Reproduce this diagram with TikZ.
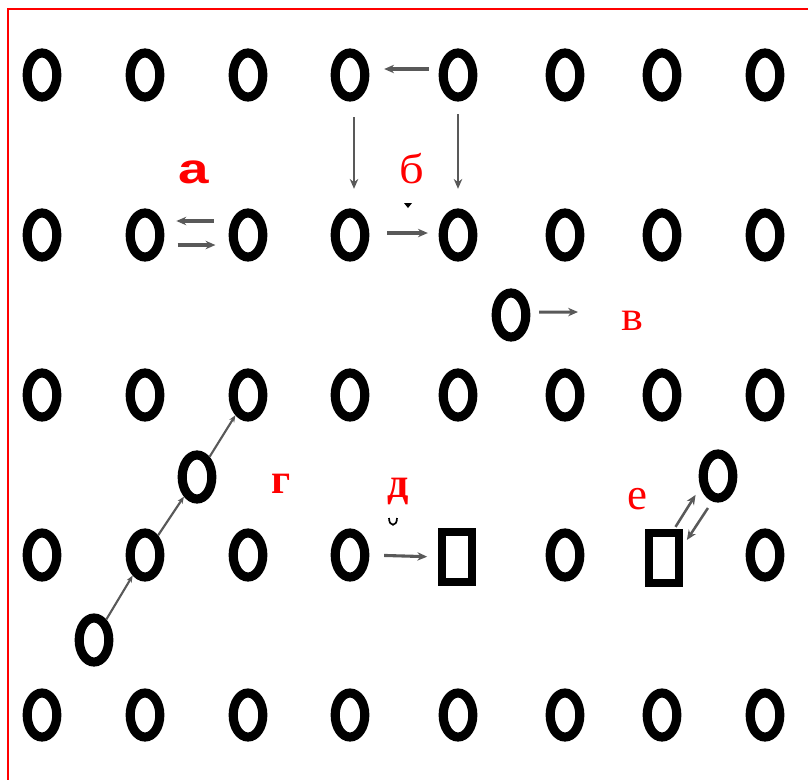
\documentclass[tikz,border=0pt]{standalone}
\usepackage{fontspec}
\setmainfont{Liberation Serif}
\newfontfamily\labsans{Liberation Sans}
\usepackage{graphicx}
\usetikzlibrary{shapes.geometric,arrows.meta,calc}

\tikzset{
  atom/.style={ellipse, draw, line width=6.5pt, minimum width=0.74cm,
    minimum height=1.1cm, inner sep=0pt},
  vac/.style={rectangle, draw, line width=6pt, minimum width=0.74cm,
    minimum height=1.25cm, inner sep=0pt},
  jump/.style={draw=black!65, line width=2.2pt, -{Stealth[length=7pt,width=6pt]}},
  lbl/.style={text=red, anchor=base, inner sep=0pt,
    font=\fontsize{30}{30}\selectfont},
}

\begin{document}
\begin{tikzpicture}[x=0.025cm, y=-0.025cm]
  \useasboundingbox (0,0) rectangle (808,779);
  \clip (0,0) rectangle (808,779);
  \draw[red, line width=1.4pt] (8,800) -- (8,9) -- (830,9);
  % lattice sites
  \foreach \x [count=\i] in {42,145,248,350,458,565,662,765}
    \foreach \y [count=\j] in {75,235,395,555,715}{
      \pgfmathtruncatemacro\isvac{(\j==4)&&(\i==5||\i==7)}
      \ifnum\isvac=0 \node[atom] (s\i\j) at (\x,\y) {};\fi
    }
  % vacancies
  \node[vac] (v1) at (457,557) {};
  \node[vac] (v2) at (664,558) {};
  % interstitials
  \node[atom] (iv) at (511,315) {};
  \node[atom] (ig1) at (197,477) {};
  \node[atom] (ig2) at (94,640) {};
  \node[atom] (ie) at (718,476) {};
  \coordinate (ivend) at (578,312);

  % a
  \draw[jump, shorten <=0.37cm, shorten >=0.3cm] ([yshift=0.35cm]s32.west) -- ([yshift=0.35cm]s22.east);
  \draw[jump, shorten <=0.33cm, shorten >=0.33cm] ([yshift=-0.25cm]s22.east) -- ([yshift=-0.25cm]s32.west);
  % b
  \draw[jump, shorten <=0.25cm, shorten >=0.37cm] ([yshift=0.15cm]s51.west) -- ([yshift=0.15cm]s41.east);
  \draw[jump, line width=1.6pt, shorten <=0.39cm, shorten >=0.49cm] ([xshift=0.1cm]s41.south) -- ([xshift=0.1cm]s42.north);
  \draw[jump, line width=1.6pt, shorten <=0.32cm, shorten >=0.49cm] (s51.south) -- (s52.north);
  \draw[jump, shorten <=0.45cm, shorten >=0.27cm] ([yshift=0.05cm]s42.east) -- ([yshift=0.05cm]s52.west);
  % v
  \draw[jump, shorten <=0.22cm] ([yshift=0.07cm]iv.east) -- (ivend);
  % g
  \draw[jump, line width=1.5pt, -{Stealth[length=5pt,width=4pt]}] (ig2) -- (s24);
  \draw[jump, line width=1.5pt, -{Stealth[length=5pt,width=4pt]}] (s24) -- (ig1);
  \draw[jump, line width=1.5pt, -{Stealth[length=5pt,width=4pt]}] (ig1) -- (s33);
  % d
  \draw[jump, shorten <=0.37cm, shorten >=0.27cm] (s44.east) -- (v1.west);
  % e
  \draw[jump, line width=1.8pt] ($(v2)!0.38!(ie)+(-9,0)$) -- ($(ie)!0.23!(v2)+(-10,0)$);
  \draw[jump, line width=1.8pt] ($(ie)!0.39!(v2)+(11,0)$) -- ($(v2)!0.22!(ie)+(11,0)$);

  % labels
  \node[lbl, font=\labsans\bfseries\fontsize{30}{30}\selectfont] (la) at (194,183) {\scalebox{1.3}[1]{а}};
  \node[lbl] (lb) at (412,183) {\scalebox{1.15}[1]{б}};
  \node[lbl] (lv) at (632,330) {\scalebox{1.1}[1]{в}};
  \node[lbl, font=\bfseries\fontsize{30}{30}\selectfont] (lg) at (281,493) {г};
  \node[lbl, font=\bfseries\fontsize{30}{30}\selectfont] (ld) at (398,497) {д};
  \node[lbl, font=\fontsize{32}{32}\selectfont] (le) at (637,509) {е};

  % small marks
  \fill (404,203) -- (412,203) -- (408,208) -- cycle;
  \draw[line width=1.2pt] (389,518) .. controls (389,527) and (397,527) .. (397,518);
\end{tikzpicture}
\end{document}
